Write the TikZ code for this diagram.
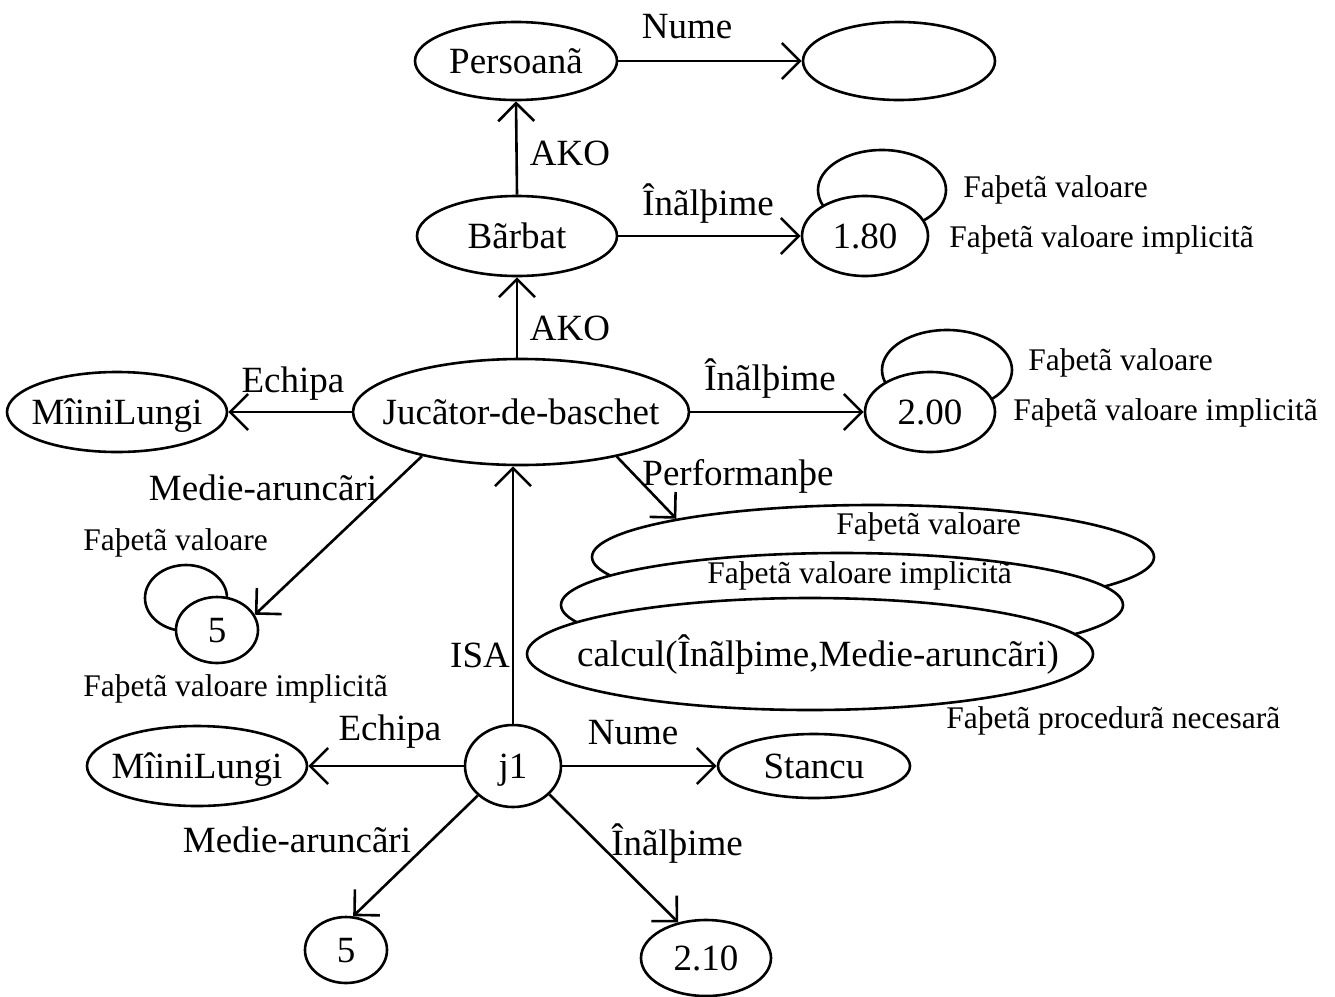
\documentclass[tikz,border=0pt]{standalone}
\usepackage{fontspec}
\setmainfont{Liberation Serif}
\usetikzlibrary{shapes.geometric,arrows.meta}
% centred text that does not widen the ellipse around it
\newcommand\boxc[1]{\makebox[0pt]{#1}}

\begin{document}
\begin{tikzpicture}[x=1pt,y=-1pt,line width=2.6pt,
  big/.style={font=\fontsize{37}{40}\selectfont},
  small/.style={font=\fontsize{31.5}{34}\selectfont},
  obj/.style 2 args={draw,ellipse,fill=white,inner sep=0pt,
    minimum width=#1pt,minimum height=#2pt,text height=24pt,text depth=0pt,big},
  lab/.style={inner sep=0pt,text height=24pt,text depth=0pt,big},
  slab/.style={inner sep=0pt,anchor=west,text height=21pt,text depth=0pt,small},
  rel/.style={-{Straight Barb[length=18pt,width=36pt]}},
]
\fill[white] (0,0) rectangle (1335,996);
\useasboundingbox (0,0) rectangle (1335,996);

% class hierarchy
\node[obj={202}{78}] (pers) at (516,61) {\boxc{Persoanã}};
\node[obj={192}{78}] (numeval) at (899,61) {};
\node[obj={200}{80}] (barb) at (517,236) {\boxc{Bãrbat}};
\node[obj={128}{80}] (loopA) at (882,190) {};
\node[obj={126}{80}] (vA) at (865,236) {\boxc{1.80}};
\node[obj={220}{80}] (mini1) at (117,412) {\boxc{MîiniLungi}};
\node[obj={336}{106}] (juc) at (521,412) {\boxc{Jucãtor-de-baschet}};
\node[obj={130}{80}] (loopB) at (947,370) {};
\node[obj={130}{80}] (vB) at (930,412) {\boxc{2.00}};
\node[obj={82}{66}] (loopC) at (186,598) {};
\node[obj={82}{66}] (five1) at (217,630) {\boxc{5}};

% stacked facets of Performanțe
\node[obj={562}{104}] (stk1) at (873,557) {};
\node[slab] (fstk1) at (835,524) {Faþetã valoare};
\node[obj={562}{104}] (stk2) at (842,605) {};
\node[slab] (fstk2) at (706,573) {Faþetã valoare implicitã};
\node[obj={566}{112}] (stk3) at (810,654) {\boxc{\hspace{16pt}calcul(Înãlþime,Medie-aruncãri)}};
\node[slab] (fstk3) at (945,718) {Faþetã procedurã necesarã};

% instance j1
\node[obj={96}{82}] (j1) at (513,766) {\boxc{j1}};
\node[obj={220}{80}] (mini2) at (197,766) {\boxc{MîiniLungi}};
\node[obj={192}{64}] (stancu) at (814,766) {\boxc{Stancu}};
\node[obj={82}{66}] (five2) at (346,950) {\boxc{5}};
\node[obj={130}{76}] (vC) at (706,958) {\boxc{2.10}};

% facet labels
\node[slab] (fA1) at (962,187) {Faþetã valoare};
\node[slab] (fA2) at (948,237) {Faþetã valoare implicitã};
\node[slab] (fB1) at (1027,360) {Faþetã valoare};
\node[slab] (fB2) at (1012,410) {Faþetã valoare implicitã};
\node[slab] (fC1) at (82,540) {Faþetã valoare};
\node[slab] (fC2) at (82,686) {Faþetã valoare implicitã};

% relation labels
\node[lab] (lNume1) at (687,26) {Nume};
\node[lab] (lAko1) at (570,153) {AKO};
\node[lab] (lInal1) at (708,203) {Înãlþime};
\node[lab] (lAko2) at (570,328) {AKO};
\node[lab] (lEch1) at (293,380) {Echipa};
\node[lab] (lInal2) at (770,378) {Înãlþime};
\node[lab] (lPerf) at (738,473) {Performanþe};
\node[lab] (lMed1) at (263,488) {Medie-aruncãri};
\node[lab] (lIsa) at (480,655) {ISA};
\node[lab] (lEch2) at (390,728) {Echipa};
\node[lab] (lNume2) at (633,732) {Nume};
\node[lab] (lMed2) at (297,840) {Medie-aruncãri};
\node[lab] (lInal3) at (677,843) {Înãlþime};

% relations
\draw[rel] (pers.east) -- (numeval.west);
\draw[rel] (barb.north) -- (pers.south);
\draw[rel] (barb.east) -- (vA.west);
\draw[rel] (barb.south |- juc.north) -- (barb.south);
\draw[rel] (juc.west) -- (mini1.east);
\draw[rel] (juc.east) -- (vB.west);
\draw[rel] (juc.-25) -- (stk1.169);
\draw[rel] (juc.-156) -- (five1.22);
\draw[rel] (j1.north) -- (j1.north |- juc.south);
\draw[rel] (j1.west) -- (mini2.east);
\draw[rel] (j1.east) -- (stancu.west);
\draw[rel] (j1.-140) -- (five2.78);
\draw[rel] (j1.-38) -- (vC.128);
\end{tikzpicture}
\end{document}
